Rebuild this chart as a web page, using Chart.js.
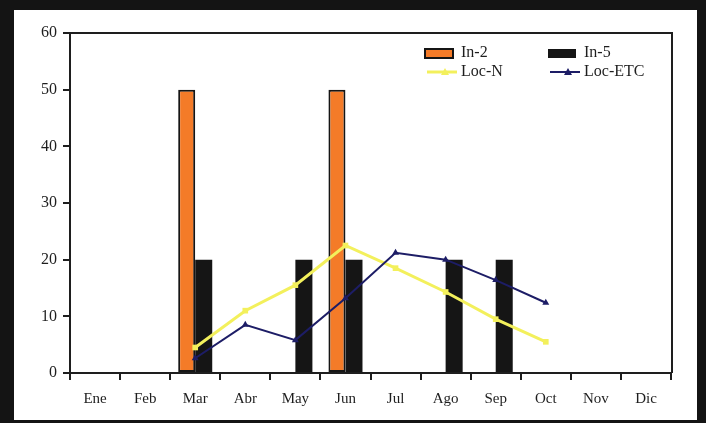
<!DOCTYPE html>
<html>
<head>
<meta charset="utf-8">
<script src="https://cdn.jsdelivr.net/npm/chart.js@4/dist/chart.umd.min.js"></script>
<style>
  html, body { margin: 0; padding: 0; background: #141414; }
  canvas { display: block; }
</style>
</head>
<body>
<canvas id="chart" width="706" height="423"></canvas>
<script>
const months = ["Ene", "Feb", "Mar", "Abr", "May", "Jun", "Jul", "Ago", "Sep", "Oct", "Nov", "Dic"];
const in2 = [null, null, 50, null, null, 50, null, null, null, null, null, null];
const in5 = [null, null, 20, null, 20, 20, null, 20, 20, null, null, null];
const locN = [null, null, 4.5, 11, 15.5, 22.5, 18.5, 14.3, 9.5, 5.5, null, null];
const locEtc = [null, null, 2.6, 8.5, 5.8, 13.2, 21.2, 20, 16.4, 12.4, null, null];
const yMin = 0;
const yMax = 60;
const yStep = 10;

const serif = "'Liberation Serif', 'DejaVu Serif', serif";
const ink = "#1e1e1e";

// black scanner frame round the white page, and the box round the plot
const framePlugin = {
  id: "frame",
  beforeDraw(chart) {
    const { ctx, width, height } = chart;
    ctx.save();
    ctx.fillStyle = "#141414";
    ctx.fillRect(0, 0, width, height);
    ctx.fillStyle = "#ffffff";
    ctx.fillRect(14, 10, 697 - 14, 420 - 10);
    ctx.restore();
  },
  afterDraw(chart) {
    const { ctx, chartArea: a } = chart;
    ctx.save();
    ctx.strokeStyle = ink;
    ctx.lineWidth = 2;
    ctx.beginPath();
    ctx.moveTo(a.left, a.top);
    ctx.lineTo(a.right + 1, a.top);
    ctx.lineTo(a.right + 1, a.bottom);
    ctx.stroke();
    ctx.restore();
  },
};

// two-column legend sitting inside the plot, top right
const legendPlugin = {
  id: "insideLegend",
  afterDraw(chart) {
    const { ctx } = chart;
    const ds = chart.data.datasets;
    const cols = [425, 548];
    const rows = [53, 72];
    ctx.save();
    ctx.font = "16px " + serif;
    ctx.fillStyle = ink;
    ctx.textBaseline = "middle";
    ds.forEach((d, i) => {
      const x = cols[i % 2];
      const y = rows[Math.floor(i / 2)];
      if (d.type === "bar") {
        ctx.fillStyle = d.backgroundColor;
        ctx.fillRect(x, y - 4, 28, 9);
        if (d.borderWidth) {
          ctx.strokeStyle = d.borderColor;
          ctx.lineWidth = d.borderWidth;
          ctx.strokeRect(x, y - 4, 28, 9);
        }
      } else {
        ctx.strokeStyle = d.borderColor;
        ctx.lineWidth = d.borderWidth;
        ctx.beginPath();
        ctx.moveTo(x + 2, y);
        ctx.lineTo(x + 32, y);
        ctx.stroke();
        ctx.fillStyle = d.pointBackgroundColor;
        ctx.beginPath();
        ctx.moveTo(x + 20, y - 4);
        ctx.lineTo(x + 24, y + 3);
        ctx.lineTo(x + 16, y + 3);
        ctx.closePath();
        ctx.fill();
      }
      ctx.fillStyle = ink;
      ctx.fillText(d.label, x + 36, y);
    });
    ctx.restore();
  },
};

new Chart(document.getElementById("chart"), {
  data: {
    labels: months,
    datasets: [
      {
        type: "bar",
        label: "In-2",
        data: in2,
        backgroundColor: "#f47b28",
        borderColor: "#151515",
        borderWidth: 2,
        borderSkipped: false,
        order: 2,
      },
      {
        type: "bar",
        label: "In-5",
        data: in5,
        backgroundColor: "#151515",
        borderWidth: 0,
        order: 2,
      },
      {
        type: "line",
        label: "Loc-N",
        data: locN,
        borderColor: "#f3f05c",
        backgroundColor: "#f3f05c",
        pointBackgroundColor: "#f3f05c",
        borderWidth: 3,
        pointRadius: 4,
        pointStyle: "rect",
        pointBorderWidth: 0,
        tension: 0,
        order: 1,
      },
      {
        type: "line",
        label: "Loc-ETC",
        data: locEtc,
        borderColor: "#1d1d66",
        backgroundColor: "#1d1d66",
        pointBackgroundColor: "#1d1d66",
        borderWidth: 2,
        pointRadius: 4,
        pointStyle: "triangle",
        pointBorderWidth: 0,
        tension: 0,
        order: 0,
      },
    ],
  },
  options: {
    responsive: false,
    animation: false,
    events: [],
    layout: { padding: { top: 33, right: 35, bottom: 8, left: 0 } },
    datasets: {
      bar: { categoryPercentage: 0.68, barPercentage: 1.0 },
    },
    plugins: {
      legend: { display: false },
      tooltip: { enabled: false },
    },
    scales: {
      x: {
        offset: true,
        grid: {
          offset: true,
          drawOnChartArea: false,
          drawTicks: true,
          tickLength: 7,
          color: ink,
          lineWidth: 2,
        },
        border: { display: true, color: ink, width: 2 },
        ticks: {
          color: ink,
          padding: 10,
          maxRotation: 0,
          font: { family: serif, size: 15 },
        },
        afterFit(scale) {
          scale.height = 42;
        },
      },
      y: {
        min: yMin,
        max: yMax,
        grid: {
          drawOnChartArea: false,
          drawTicks: true,
          tickLength: 7,
          color: ink,
          lineWidth: 2,
        },
        border: { display: true, color: ink, width: 2 },
        ticks: {
          stepSize: yStep,
          color: ink,
          padding: 6,
          font: { family: serif, size: 16 },
        },
        afterFit(scale) {
          scale.width = 70;
        },
      },
    },
  },
  plugins: [framePlugin, legendPlugin],
});
</script>
</body>
</html>
